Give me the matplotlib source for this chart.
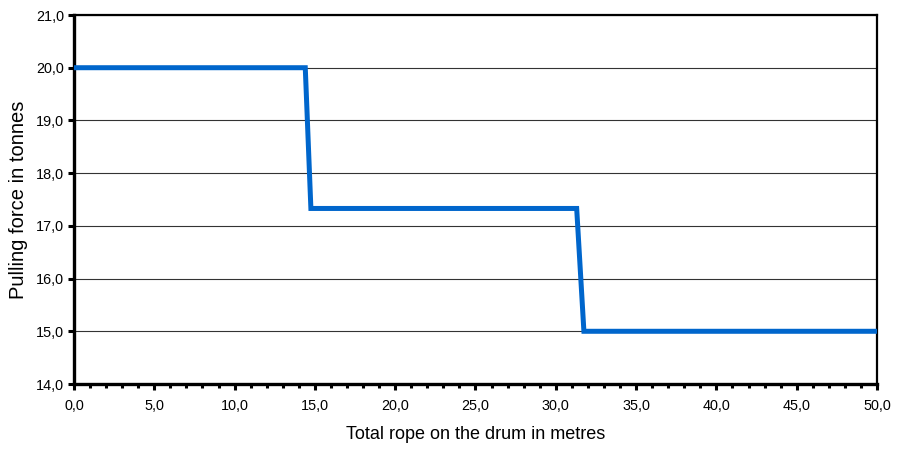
import matplotlib
matplotlib.use("Agg")
import matplotlib.pyplot as plt
from matplotlib.ticker import MultipleLocator, FuncFormatter

rope_m = [0.0, 14.4, 14.75, 31.3, 31.75, 50.0]
force_t = [20.0, 20.0, 17.33, 17.33, 15.0, 15.0]

plt.rcParams['font.family'] = ['Liberation Sans', 'DejaVu Sans']

fig = plt.figure(figsize=(9.07, 4.5), dpi=100)
ax = fig.add_axes([74/907, 1-384/450, (877-74)/907, (384-15)/450])

ax.plot(rope_m, force_t, color='#0066CC', lw=3.6, solid_joinstyle='miter', zorder=3)

ax.set_xlim(0, 50)
ax.set_ylim(14, 21)
ax.xaxis.set_major_locator(MultipleLocator(5))
ax.xaxis.set_minor_locator(MultipleLocator(1))
ax.yaxis.set_major_locator(MultipleLocator(1))
fmt = FuncFormatter(lambda v, p: f"{v:.1f}".replace('.', ','))
ax.xaxis.set_major_formatter(fmt)
ax.yaxis.set_major_formatter(fmt)

ax.grid(axis='y', color='#333333', lw=0.8, zorder=1)
for s in ['left', 'bottom']:
    ax.spines[s].set_linewidth(2.4)
for s in ['top', 'right']:
    ax.spines[s].set_linewidth(1.6)

ax.tick_params(axis='both', which='major', direction='out', length=4, width=2.2, labelsize=10.4)
ax.tick_params(axis='x', which='major', pad=7)
ax.tick_params(axis='y', which='major', pad=3)
ax.tick_params(axis='x', which='minor', direction='out', length=3, width=2.2)

ax.set_xlabel('Total rope on the drum in metres', fontsize=13, labelpad=9)
ax.set_ylabel('Pulling force in tonnes', fontsize=14.5, labelpad=6)

fig.savefig('out.png', dpi=100)
